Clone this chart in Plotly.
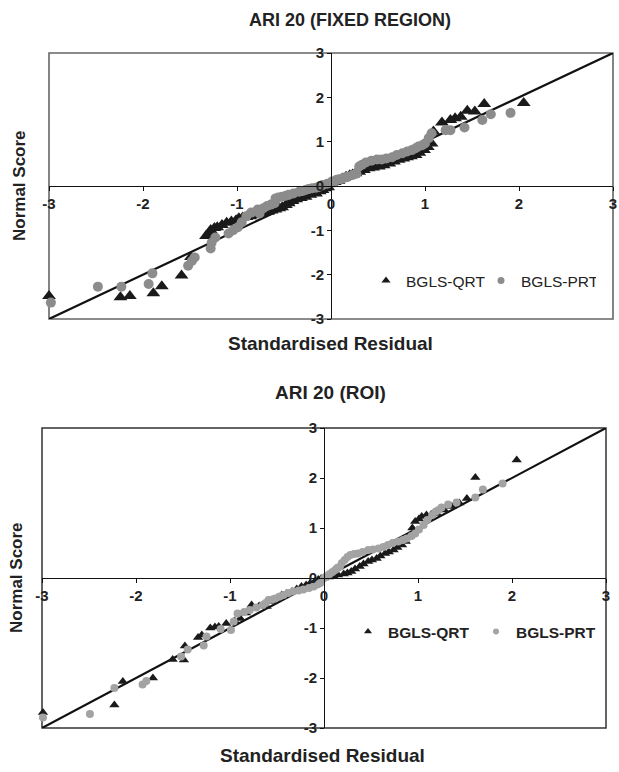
import plotly.graph_objects as go

# ---------------- data ----------------
tick_vals = [-3, -2, -1, 0, 1, 2, 3]
tick_text = ["-3", "-2", "-1", "0", "1", "2", "3"]

top_title = "ARI 20 (FIXED REGION)"
bot_title = "ARI 20 (ROI)"
x_title = "Standardised Residual"
y_title = "Normal Score"
series_names = ["BGLS-QRT", "BGLS-PRT"]

# top panel: BGLS-QRT (triangles)
top_qrt_x = [-3.0, -2.24, -2.14, -1.89, -1.80, -1.59, -1.49, -1.33, -1.30, -1.28, -1.24, -1.21,
             -1.16, -1.11, -1.06, -1.01, -0.98, -0.94, -0.90, -0.86, -0.82, -0.78, -0.75, -0.71,
             -0.67, -0.63, -0.59, -0.55, -0.52, -0.48, -0.45, -0.41, -0.37, -0.32, -0.27, -0.22,
             -0.16, -0.12, -0.09, -0.06, -0.03, 0.01, 0.04, 0.08, 0.12, 0.16, 0.20, 0.23, 0.26,
             0.30, 0.35, 0.40, 0.45, 0.51, 0.56, 0.62, 0.67, 0.72, 0.77, 0.81, 0.85, 0.90, 0.94,
             0.99, 1.03, 1.07, 1.09, 1.18, 1.27, 1.32, 1.38, 1.45, 1.53, 1.63, 2.05]
top_qrt_y = [-2.48, -2.51, -2.48, -2.42, -2.26, -2.02, -1.60, -1.13, -1.06, -0.99, -0.95, -0.93,
             -0.88, -0.83, -0.80, -0.77, -0.73, -0.71, -0.70, -0.68, -0.66, -0.64, -0.62, -0.60,
             -0.58, -0.55, -0.53, -0.50, -0.48, -0.43, -0.39, -0.34, -0.30, -0.27, -0.24, -0.20,
             -0.17, -0.12, -0.09, -0.05, -0.03, 0.05, 0.09, 0.12, 0.17, 0.21, 0.24, 0.26, 0.29,
             0.32, 0.36, 0.40, 0.42, 0.44, 0.47, 0.51, 0.55, 0.59, 0.62, 0.65, 0.67, 0.70, 0.75,
             0.81, 0.88, 0.96, 1.23, 1.43, 1.49, 1.53, 1.56, 1.70, 1.68, 1.85, 1.87]

# top panel: BGLS-PRT (circles)
top_prt_x = [-2.98, -2.48, -2.23, -1.94, -1.90, -1.52, -1.48, -1.45, -1.28, -1.27, -1.23, -1.09,
             -1.04, -0.99, -0.95, -0.90, -0.85, -0.78, -0.76, -0.72, -0.68, -0.64, -0.60, -0.59,
             -0.56, -0.52, -0.48, -0.45, -0.40, -0.34, -0.30, -0.27, -0.24, -0.20, -0.16, -0.13,
             -0.09, -0.04, 0.01, 0.03, 0.06, 0.09, 0.12, 0.15, 0.18, 0.23, 0.27, 0.30, 0.33, 0.37,
             0.43, 0.49, 0.54, 0.59, 0.65, 0.70, 0.76, 0.81, 0.86, 0.90, 0.93, 0.97, 1.00, 1.04,
             1.07, 1.22, 1.27, 1.42, 1.61, 1.70, 1.91]
top_prt_y = [-2.63, -2.27, -2.27, -2.21, -1.97, -1.80, -1.69, -1.61, -1.41, -1.28, -1.16, -1.07,
             -1.00, -0.93, -0.82, -0.68, -0.60, -0.53, -0.62, -0.50, -0.45, -0.42, -0.39, -0.28,
             -0.26, -0.24, -0.22, -0.20, -0.17, -0.13, -0.11, -0.09, -0.07, -0.05, -0.04, -0.02,
             0.02, 0.05, 0.10, 0.08, 0.14, 0.15, 0.17, 0.19, 0.21, 0.25, 0.28, 0.44, 0.48, 0.53,
             0.57, 0.60, 0.60, 0.62, 0.65, 0.70, 0.74, 0.78, 0.81, 0.85, 0.89, 0.92, 0.96, 1.08,
             1.19, 1.26, 1.26, 1.32, 1.49, 1.62, 1.65]

# bottom panel: BGLS-QRT (triangles)
bot_qrt_x = [-2.99, -2.23, -2.14, -1.82, -1.61, -1.49, -1.48, -1.34, -1.30, -1.21, -1.16, -1.12,
             -1.04, -0.95, -0.89, -0.83, -0.77, -0.69, -0.61, -0.54, -0.50, -0.45, -0.40, -0.34,
             -0.29, -0.24, -0.19, -0.15, -0.10, -0.06, -0.03, 0.0, 0.05, 0.10, 0.15, 0.21, 0.25,
             0.29, 0.33, 0.38, 0.42, 0.47, 0.51, 0.56, 0.60, 0.65, 0.69, 0.74, 0.78, 0.83, 0.87,
             0.91, 0.94, 0.97, 1.01, 1.04, 1.09, 1.14, 1.20, 1.28, 1.36, 1.44, 1.52, 1.61, 2.05]
bot_qrt_y = [-2.69, -2.54, -2.07, -2.00, -1.63, -1.64, -1.36, -1.19, -1.14, -1.00, -0.98, -0.97,
             -0.91, -0.86, -0.81, -0.70, -0.54, -0.56, -0.57, -0.47, -0.40, -0.34, -0.31, -0.27,
             -0.22, -0.17, -0.14, -0.11, -0.07, -0.03, -0.01, 0.0, 0.02, 0.04, 0.06, 0.08, 0.10,
             0.13, 0.18, 0.23, 0.28, 0.33, 0.36, 0.39, 0.44, 0.49, 0.52, 0.56, 0.61, 0.66, 0.73,
             0.83, 1.00, 1.13, 1.18, 1.23, 1.26, 1.27, 1.29, 1.36, 1.43, 1.50, 1.59, 2.01, 2.36]

# bottom panel: BGLS-PRT (circles)
bot_prt_x = [-2.99, -2.49, -2.23, -1.93, -1.89, -1.52, -1.45, -1.28, -1.25, -1.10, -0.99, -0.96,
             -0.92, -0.85, -0.79, -0.72, -0.65, -0.62, -0.59, -0.55, -0.52, -0.47, -0.43, -0.38,
             -0.33, -0.27, -0.22, -0.16, -0.11, -0.07, -0.04, 0.0, 0.03, 0.06, 0.09, 0.12, 0.14,
             0.17, 0.19, 0.22, 0.25, 0.28, 0.32, 0.36, 0.41, 0.47, 0.52, 0.58, 0.63, 0.68, 0.73,
             0.79, 0.84, 0.88, 0.93, 0.97, 1.01, 1.06, 1.10, 1.15, 1.19, 1.22, 1.25, 1.32, 1.41,
             1.61, 1.69, 1.90]
bot_prt_y = [-2.79, -2.72, -2.20, -2.13, -2.06, -1.57, -1.43, -1.35, -1.17, -1.02, -1.04, -0.87,
             -0.71, -0.68, -0.64, -0.59, -0.54, -0.50, -0.44, -0.43, -0.41, -0.37, -0.34, -0.30,
             -0.27, -0.25, -0.23, -0.20, -0.17, -0.13, -0.10, 0.0, 0.04, 0.08, 0.12, 0.16, 0.20,
             0.23, 0.30, 0.36, 0.42, 0.46, 0.48, 0.49, 0.52, 0.56, 0.57, 0.59, 0.62, 0.66, 0.70,
             0.73, 0.76, 0.79, 0.84, 0.89, 0.97, 1.06, 1.16, 1.26, 1.33, 1.36, 1.41, 1.47, 1.51,
             1.61, 1.77, 1.89]

ref_line = [-3, 3]

# ---------------- styling ----------------
W, H = 619, 772
FONT = "Arial, Liberation Sans, sans-serif"
TRI = "#1a1a1a"
GRAY_TOP = "#8c8c8c"
GRAY_BOT = "#a3a3a3"


def px_x(p):
    return p / W


def px_y(p):
    return 1 - p / H


fig = go.Figure()

# top panel
fig.add_trace(go.Scatter(x=ref_line, y=ref_line, mode="lines", line=dict(color="#111", width=2.2),
                         showlegend=False, xaxis="x", yaxis="y", hoverinfo="skip", cliponaxis=False))
fig.add_trace(go.Scatter(x=top_qrt_x, y=top_qrt_y, mode="markers", name=series_names[0],
                         marker=dict(symbol="triangle-up", size=12, color=TRI),
                         showlegend=False, xaxis="x", yaxis="y", cliponaxis=False))
fig.add_trace(go.Scatter(x=top_prt_x, y=top_prt_y, mode="markers", name=series_names[1],
                         marker=dict(symbol="circle", size=10, color=GRAY_TOP),
                         showlegend=False, xaxis="x", yaxis="y", cliponaxis=False))
# legend proxies (top)
fig.add_trace(go.Scatter(x=[None], y=[None], mode="markers", name=series_names[0],
                         marker=dict(symbol="triangle-up", size=8, color=TRI),
                         legend="legend", xaxis="x", yaxis="y"))
fig.add_trace(go.Scatter(x=[None], y=[None], mode="markers", name=series_names[1],
                         marker=dict(symbol="circle", size=7, color=GRAY_TOP),
                         legend="legend", xaxis="x", yaxis="y"))

# bottom panel
fig.add_trace(go.Scatter(x=ref_line, y=ref_line, mode="lines", line=dict(color="#111", width=2.2),
                         showlegend=False, xaxis="x2", yaxis="y2", hoverinfo="skip", cliponaxis=False))
fig.add_trace(go.Scatter(x=bot_qrt_x, y=bot_qrt_y, mode="markers", name=series_names[0],
                         marker=dict(symbol="triangle-up", size=9, color=TRI),
                         showlegend=False, xaxis="x2", yaxis="y2", cliponaxis=False))
fig.add_trace(go.Scatter(x=bot_prt_x, y=bot_prt_y, mode="markers", name=series_names[1],
                         marker=dict(symbol="circle", size=8, color=GRAY_BOT),
                         showlegend=False, xaxis="x2", yaxis="y2", cliponaxis=False))
fig.add_trace(go.Scatter(x=[None], y=[None], mode="markers", name=series_names[0],
                         marker=dict(symbol="triangle-up", size=7, color=TRI),
                         legend="legend2", xaxis="x2", yaxis="y2"))
fig.add_trace(go.Scatter(x=[None], y=[None], mode="markers", name=series_names[1],
                         marker=dict(symbol="circle", size=6, color=GRAY_BOT),
                         legend="legend2", xaxis="x2", yaxis="y2"))

tickfont = dict(family=FONT, size=15, color="#222", weight="bold")


def xaxis(domain, pos):
    return dict(domain=domain, range=[-3, 3], anchor="free", position=pos,
                tickvals=tick_vals, ticktext=tick_text, tickfont=tickfont,
                showline=True, linecolor="#111", linewidth=1, ticks="outside", ticklen=4,
                tickcolor="#111", showgrid=False, zeroline=False, fixedrange=True, automargin=False)


def yaxis(domain, pos):
    return dict(domain=domain, range=[-3, 3], anchor="free", position=pos, side="left",
                tickvals=tick_vals, ticktext=tick_text, tickfont=tickfont,
                showline=True, linecolor="#111", linewidth=1, ticks="outside", ticklen=4,
                tickcolor="#111", showgrid=False, zeroline=False, fixedrange=True, automargin=False)


top_xd = [px_x(49), px_x(613)]
top_yd = [px_y(319), px_y(53)]
bot_xd = [px_x(42), px_x(606)]
bot_yd = [px_y(728), px_y(428)]

fig.update_layout(
    width=W, height=H, margin=dict(l=0, r=0, t=0, b=0, pad=0, autoexpand=False),
    paper_bgcolor="white", plot_bgcolor="white",
    font=dict(family=FONT, color="#222"),
    xaxis=xaxis(top_xd, px_y(186)),
    yaxis=yaxis(top_yd, px_x(331)),
    xaxis2=xaxis(bot_xd, px_y(578)),
    yaxis2=yaxis(bot_yd, px_x(324)),
    legend=dict(orientation="h", x=px_x(366), y=px_y(281), xanchor="left", yanchor="middle",
                bgcolor="rgba(0,0,0,0)", font=dict(family=FONT, size=15.5, color="#222"),
                entrywidth=70, entrywidthmode="pixels", itemwidth=30),
    legend2=dict(orientation="h", x=px_x(348), y=px_y(632), xanchor="left", yanchor="middle",
                 bgcolor="rgba(0,0,0,0)", font=dict(family=FONT, size=15.5, color="#222", weight="bold"),
                 entrywidth=83, entrywidthmode="pixels", itemwidth=30),
    shapes=[
        dict(type="rect", xref="x domain", yref="y domain", x0=0, x1=1, y0=0, y1=1,
             line=dict(color="#666", width=1.6), layer="below"),
        dict(type="rect", xref="x2 domain", yref="y2 domain", x0=0, x1=1, y0=0, y1=1,
             line=dict(color="#333", width=1.5), layer="below"),
    ],
)

anns = [
    (top_title, 350, 20, 0, 18),
    (x_title, 330, 343, 0, 19),
    (y_title, 20, 186, -90, 17),
    (bot_title, 330, 392, 0, 19),
    (x_title, 322, 755, 0, 19),
    (y_title, 16, 578, -90, 17),
]
for text, ax, ay, rot, fs in anns:
    fig.add_annotation(text="<b>" + text + "</b>", x=px_x(ax), y=px_y(ay), xref="paper", yref="paper",
                       showarrow=False, xanchor="center", yanchor="middle", textangle=rot,
                       font=dict(family=FONT, size=fs, color="#222"))

fig.write_html("out.html")
